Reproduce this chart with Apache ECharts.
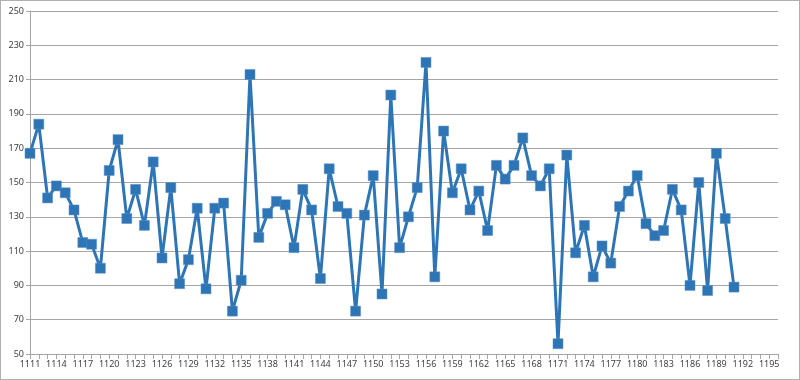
<!DOCTYPE html>
<html><head><meta charset="utf-8">
<script src="https://cdn.jsdelivr.net/npm/echarts@6/dist/echarts.min.js"></script>
<style>
html,body{margin:0;padding:0;background:#fff;}
#c{width:800px;height:380px;box-sizing:border-box;border:1px solid #b0b0b0;}
</style></head>
<body><div id="c"></div>
<script>
const startYear = 1111, endYear = 1196;
const categories = [];
for (let y = startYear; y <= endYear; y++) categories.push(String(y));
const values = [167,184,141,148,144,134,115,114,100,157,175,129,146,125,162,106,147,91,105,135,88,135,138,75,93,213,118,
132,139,137,112,146,134,94,158,136,132,75,131,154,85,201,112,130,147,220,95,180,144,158,134,145,122,160,152,160,176,
154,148,158,56,166,109,125,95,113,103,136,145,154,126,119,122,146,134,90,150,87,167,129,89];
const yTicks = {min:50, max:250, interval:20};

const chart = echarts.init(document.getElementById('c'), null, {renderer:'canvas'});
chart.setOption({
  animation:false,
  grid:{left:29,right:21,top:10,bottom:25,containLabel:false},
  xAxis:{type:'category',data:categories,boundaryGap:false,
    axisLine:{lineStyle:{color:'#a6a6a6',width:1}},
    axisTick:{interval:0,length:5,lineStyle:{color:'#a6a6a6'}},
    axisLabel:{interval:2,color:'#404040',fontFamily:'Noto Sans',fontSize:9,margin:6}},
  yAxis:{type:'value',min:yTicks.min,max:yTicks.max,interval:yTicks.interval,
    axisLine:{show:true,lineStyle:{color:'#a6a6a6'}},
    axisTick:{show:true,length:4,lineStyle:{color:'#a6a6a6'}},
    splitLine:{lineStyle:{color:'#a6a6a6',width:1}},
    axisLabel:{color:'#404040',fontFamily:'Noto Sans',fontSize:9,margin:6}},
  series:[{type:'line',data:values,symbol:'rect',symbolSize:10,showAllSymbol:true,
    lineStyle:{color:'#2e75b6',width:3},
    itemStyle:{color:'#2e75b6',borderColor:'#5b8fc7',borderWidth:0.5}}]
});
</script></body></html>
